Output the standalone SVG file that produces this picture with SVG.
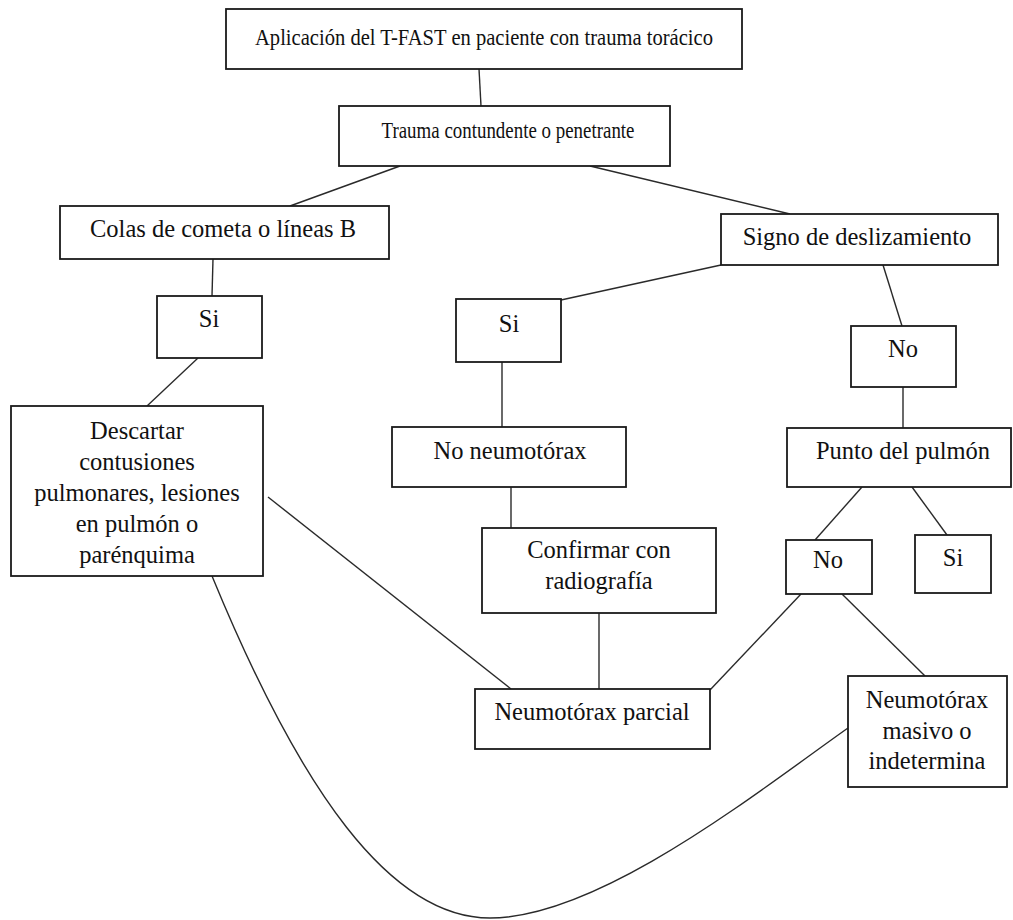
<svg xmlns="http://www.w3.org/2000/svg" width="1013" height="920" viewBox="0 0 1013 920">
<style>
.box{fill:#fff;stroke:#1a1a1a;stroke-width:1.8}
.t{font-family:"Liberation Serif","Times New Roman",serif;font-size:24.5px;fill:#111;text-anchor:middle}
.s{font-size:23px}
.c{fill:none;stroke:#2a2a2a;stroke-width:1.4}
</style>
<rect width="1013" height="920" fill="#fff"/>
<g id="connectors">
<line class="c" x1="479" y1="69" x2="481" y2="106"/>
<line class="c" x1="400" y1="166" x2="290" y2="206"/>
<line class="c" x1="590" y1="166" x2="790" y2="214"/>
<line class="c" x1="213" y1="259" x2="212" y2="296"/>
<line class="c" x1="198" y1="358" x2="147" y2="406"/>
<line class="c" x1="721" y1="265" x2="561" y2="300"/>
<line class="c" x1="883" y1="265" x2="902" y2="326"/>
<line class="c" x1="903" y1="387" x2="903" y2="428"/>
<line class="c" x1="502" y1="362" x2="502" y2="427"/>
<line class="c" x1="511" y1="487" x2="511" y2="528"/>
<line class="c" x1="599" y1="613" x2="599" y2="689"/>
<line class="c" x1="268" y1="497" x2="511" y2="689"/>
<line class="c" x1="862" y1="487" x2="815" y2="540"/>
<line class="c" x1="912" y1="487" x2="947" y2="535"/>
<line class="c" x1="801" y1="594" x2="710" y2="690"/>
<line class="c" x1="842" y1="594" x2="925" y2="676"/>
<path class="c" d="M212,576 C300,790 390,918 490,918 C600,918 760,790 848,728"/>
</g>
<g id="n1"><rect class="box" x="226" y="9" width="516" height="60"/><text class="t s" x="484" y="45" textLength="458" lengthAdjust="spacingAndGlyphs">Aplicación del T-FAST en paciente con trauma torácico</text></g>
<g id="n2"><rect class="box" x="339" y="106" width="331" height="60"/><text class="t s" x="508" y="138" textLength="253" lengthAdjust="spacingAndGlyphs">Trauma contundente o penetrante</text></g>
<g id="n3"><rect class="box" x="60" y="206" width="329" height="53"/><text class="t" x="223" y="237">Colas de cometa o líneas B</text></g>
<g id="n4"><rect class="box" x="157" y="296" width="105" height="62"/><text class="t" x="209" y="327">Si</text></g>
<g id="n5"><rect class="box" x="11" y="406" width="252" height="170"/>
<text class="t" x="137" y="439">Descartar</text>
<text class="t" x="137" y="470">contusiones</text>
<text class="t" x="137" y="501">pulmonares, lesiones</text>
<text class="t" x="137" y="532">en pulmón o</text>
<text class="t" x="137" y="563">parénquima</text></g>
<g id="n6"><rect class="box" x="721" y="214" width="277" height="51"/><text class="t" x="857" y="245">Signo de deslizamiento</text></g>
<g id="n7"><rect class="box" x="456" y="299" width="105" height="63"/><text class="t" x="509" y="332">Si</text></g>
<g id="n8"><rect class="box" x="851" y="326" width="105" height="61"/><text class="t" x="903" y="357">No</text></g>
<g id="n9"><rect class="box" x="392" y="427" width="234" height="60"/><text class="t" x="510" y="459">No neumotórax</text></g>
<g id="n10"><rect class="box" x="787" y="428" width="224" height="59"/><text class="t" x="903" y="459">Punto del pulmón</text></g>
<g id="n11"><rect class="box" x="482" y="528" width="234" height="85"/>
<text class="t" x="599" y="558">Confirmar con</text>
<text class="t" x="599" y="589">radiografía</text></g>
<g id="n12"><rect class="box" x="786" y="540" width="86" height="54"/><text class="t" x="828" y="568">No</text></g>
<g id="n13"><rect class="box" x="915" y="535" width="76" height="58"/><text class="t" x="953" y="566">Si</text></g>
<g id="n14"><rect class="box" x="475" y="689" width="235" height="60"/><text class="t" x="592" y="720">Neumotórax parcial</text></g>
<g id="n15"><rect class="box" x="848" y="676" width="159" height="111"/>
<text class="t" x="927" y="708">Neumotórax</text>
<text class="t" x="927" y="739">masivo o</text>
<text class="t" x="927" y="769">indetermina</text></g>
</svg>
